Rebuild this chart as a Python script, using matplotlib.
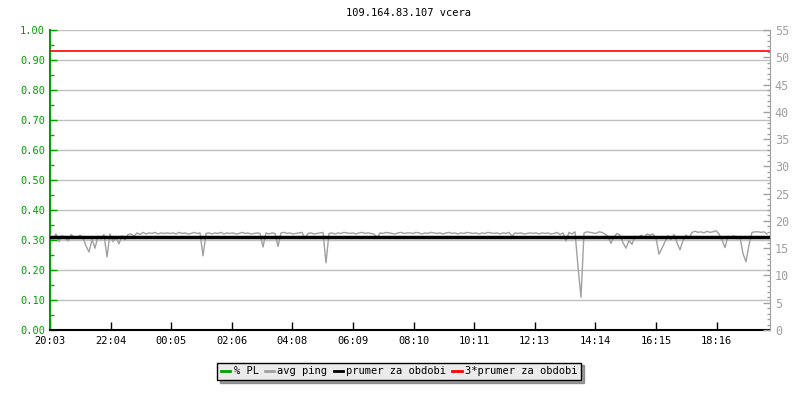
import numpy as np
import matplotlib.pyplot as plt
from matplotlib.ticker import MultipleLocator

plt.rcParams["font.family"] = ["DejaVu Sans Mono", "DejaVu Sans"]
plt.rcParams["font.size"] = 7.5

title = "109.164.83.107 vcera"
step_min = 6
tick_labels = ["20:03", "22:04", "00:05", "02:06", "04:08", "06:09",
               "08:10", "10:11", "12:13", "14:14", "16:15", "18:16"]
tick_step_min = 121.2

# avg ping (ms), one value every 6 minutes
ping = [
    17.4, 16.6, 17.6, 16.2, 17.3, 17.0, 16.3, 17.5, 17.1, 16.8,
    17.4, 16.9, 15.4, 14.3, 16.6, 15.0, 17.2, 16.7, 17.5, 13.4,
    17.6, 16.2, 17.0, 15.8, 17.3, 16.5, 17.5, 17.6, 17.2, 17.8,
    17.5, 17.9, 17.6, 17.8, 17.7, 17.9, 17.6, 17.8, 17.7, 17.8,
    17.7, 17.8, 17.6, 17.9, 17.7, 17.8, 17.6, 17.7, 17.9, 17.7,
    17.8, 13.6, 17.7, 17.8, 17.6, 17.8, 17.7, 17.9, 17.6, 17.8,
    17.7, 17.8, 17.6, 17.7, 17.9, 17.7, 17.8, 17.6, 17.7, 17.8,
    17.7, 15.2, 17.8, 17.6, 17.8, 17.7, 15.3, 17.8, 17.9, 17.7,
    17.8, 17.6, 17.7, 17.8, 17.9, 16.8, 17.7, 17.8, 17.6, 17.7,
    17.8, 17.9, 12.3, 17.7, 17.8, 17.6, 17.8, 17.7, 17.9, 17.8,
    17.7, 17.8, 17.6, 17.8, 17.9, 17.7, 17.8, 17.7, 17.6, 16.9,
    17.8, 17.7, 17.9, 17.8, 17.7, 17.6, 17.8, 17.9, 17.7, 17.8,
    17.8, 17.7, 17.9, 17.8, 17.6, 17.8, 17.7, 17.9, 17.8, 17.7,
    17.8, 17.6, 17.8, 17.9, 17.7, 17.8, 17.6, 17.8, 17.7, 17.9,
    17.8, 17.7, 17.8, 17.6, 17.8, 17.7, 17.9, 17.8, 17.7, 17.8,
    17.6, 17.8, 17.7, 17.9, 17.2, 17.8, 17.7, 17.8, 17.6, 17.7,
    17.8, 17.7, 17.8, 17.6, 17.8, 17.7, 17.8, 17.6, 17.7, 17.9,
    17.5, 17.8, 16.3, 17.9, 17.6, 18.0, 11.6, 6.0, 17.8, 18.0,
    17.9, 17.8, 17.7, 18.0, 17.9, 17.6, 17.2, 15.9, 17.1, 17.7,
    17.4, 16.0, 15.0, 16.4, 15.7, 17.2, 16.9, 17.4, 17.0, 17.6,
    17.4, 17.6, 16.8, 13.9, 15.0, 16.2, 17.3, 16.6, 17.5, 16.0,
    14.7, 16.4, 17.4, 16.8, 17.9, 18.1, 17.9, 18.0, 17.8, 18.1,
    17.9, 18.0, 18.2, 17.6, 16.5, 15.1, 17.2, 16.9, 17.3, 16.7,
    17.0, 14.0, 12.5, 15.6, 17.9, 18.0, 18.0, 17.9, 18.0, 17.6,
]
packet_loss = [0.0] * len(ping)
avg_ping = 17.07

green = "#00a000"
gray = "#a0a0a0"

fig = plt.figure(figsize=(8, 4), dpi=100)
ax = fig.add_axes([0.0625, 0.175, 0.9, 0.75])
ax2 = ax.twinx()

t = np.arange(len(ping)) * step_min
ax.set_xlim(0, 1440)
ax.set_ylim(0, 1)
ax2.set_ylim(0, 55)

ax.yaxis.grid(True, color="#c0c0c0", lw=1)
ax.set_axisbelow(True)

pl_line, = ax.plot(t, packet_loss, color=green, lw=2, zorder=1)
ping_line, = ax2.plot(t, ping, color=gray, lw=1)
avg_line = ax2.axhline(avg_ping, color="black", lw=2.5)
avg3_line = ax2.axhline(3 * avg_ping, color="red", lw=1.2)

# left axis
ax.yaxis.set_major_locator(MultipleLocator(0.1))
ax.yaxis.set_minor_locator(MultipleLocator(0.05))
ax.yaxis.set_major_formatter(lambda v, p: f"{v:.2f}")
ax.tick_params(axis="y", which="both", direction="in", colors=green, labelcolor=green)
ax.tick_params(axis="y", which="major", length=5, width=1)
ax.tick_params(axis="y", which="minor", length=3, width=1)

# x axis
ax.set_xticks([i * tick_step_min for i in range(len(tick_labels))])
ax.set_xticklabels(tick_labels)
ax.tick_params(axis="x", direction="in", length=6, width=1, colors="black", pad=4)

# right axis
ax2.yaxis.set_major_locator(MultipleLocator(5))
ax2.yaxis.set_minor_locator(MultipleLocator(1))
ax2.tick_params(axis="y", which="both", direction="in", colors=gray, labelcolor=gray)
ax2.tick_params(axis="y", which="major", length=5, width=1, labelsize=8.5)
ax2.tick_params(axis="y", which="minor", length=2, width=1)

for a in (ax, ax2):
    a.spines["top"].set_visible(False)
ax.spines["left"].set_color(green)
ax.spines["left"].set_linewidth(1.5)
ax.spines["bottom"].set_color("black")
ax.spines["bottom"].set_linewidth(1.5)
ax2.spines["right"].set_color(gray)
ax2.spines["left"].set_visible(False)
ax2.spines["bottom"].set_visible(False)
ax.spines["right"].set_visible(False)

fig.text(0.511, 0.967, title, ha="center", va="center", fontsize=7.5)

leg = fig.legend([pl_line, ping_line, avg_line, avg3_line],
                 ["% PL", "avg ping", "prumer za obdobi", "3*prumer za obdobi"],
                 loc="center", bbox_to_anchor=(0.499, 0.072), ncol=4,
                 handlelength=0.9, handletextpad=0.3, columnspacing=0.6,
                 fancybox=False, shadow=True, edgecolor="black",
                 facecolor="#ebebeb", framealpha=1, borderpad=0.35,
                 fontsize=7.5)
for h in leg.legend_handles:
    h.set_linewidth(2)

fig.savefig("out.png", dpi=100)
